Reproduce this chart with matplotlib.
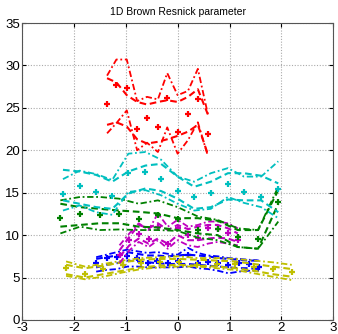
import matplotlib
matplotlib.use("Agg")
import matplotlib.pyplot as plt

plt.rcParams['font.family'] = ['Liberation Sans', 'DejaVu Sans']

# Red group
red_x = [-1.36, -1.18, -0.98, -0.78, -0.59, -0.38, -0.2, 0.0, 0.2, 0.39, 0.585]
red_pts = [25.4, 27.7, 27.3, 22.5, 23.8, 22.75, 26.2, 22.2, 24.3, 26.1, 21.9]
red_hi_outer = [28.8, 30.7, 30.7, 25.8, 26.3, 26.0, 29.1, 26.5, 27.0, 29.6, 24.2]
red_hi_inner = [28.5, 28.0, 26.5, 25.7, 25.4, 25.7, 25.9, 25.7, 26.3, 27.2, 24.2]
red_lo_inner = [23.0, 23.3, 22.8, 21.3, 20.8, 21.0, 21.3, 21.7, 22.2, 23.0, 19.5]
red_lo_outer = [22.0, 23.2, 24.7, 20.0, 20.9, 19.8, 22.7, 19.6, 21.2, 23.3, 19.3]

# Cyan group
cyan_x = [-2.21, -1.89, -1.57, -1.26, -0.95, -0.62, -0.32, 0.0, 0.32, 0.64, 0.97, 1.28, 1.61, 1.94]
cyan_pts = [14.83, 15.77, 15.06, 14.67, 17.34, 17.42, 16.56, 15.18, 14.48, 14.99, 16.05, 15.03, 14.55, 15.42]
cyan_hi_outer = [16.6, 17.6, 17.2, 16.5, 19.6, 19.8, 18.9, 16.9, 16.3, 17.3, 17.9, 16.9, 16.9, 18.7]
cyan_hi_inner = [17.7, 17.5, 17.1, 16.3, 17.5, 18.2, 18.4, 16.9, 15.7, 16.3, 17.3, 17.3, 17.0, 16.1]
cyan_lo_inner = [14.1, 13.7, 13.3, 13.1, 14.9, 15.5, 15.2, 14.3, 13.1, 13.3, 14.2, 14.1, 14.1, 12.7]
cyan_lo_outer = [12.9, 13.5, 12.7, 12.4, 15.1, 15.3, 14.7, 13.7, 12.9, 13.1, 14.5, 13.8, 13.3, 12.0]

# Green group
green_x = [-2.26, -1.88, -1.5, -1.13, -0.75, -0.38, 0.0, 0.39, 0.77, 1.16, 1.55, 1.94]
green_pts = [12.0, 12.55, 12.36, 12.55, 11.85, 12.36, 11.85, 10.6, 10.67, 9.8, 9.5, 13.9]
green_hi_outer = [14.1, 14.5, 14.5, 14.3, 13.7, 14.1, 13.3, 12.2, 11.8, 10.8, 10.6, 15.7]
green_hi_inner = [13.7, 13.3, 13.1, 12.9, 12.75, 12.55, 12.0, 12.0, 11.7, 10.6, 10.6, 15.3]
green_lo_inner = [11.0, 11.2, 11.4, 11.4, 11.0, 10.9, 10.6, 10.2, 10.0, 8.6, 8.4, 13.7]
green_lo_outer = [10.2, 11.0, 10.6, 10.67, 10.6, 10.6, 10.5, 9.7, 9.4, 8.6, 8.4, 11.6]

# Magenta group
mag_x = [-1.12, -0.93, -0.75, -0.56, -0.38, -0.19, 0.0, 0.2, 0.39, 0.585, 0.77, 0.97, 1.16]
mag_pts = [7.65, 9.4, 10.1, 9.6, 11.0, 9.0, 10.8, 10.0, 9.7, 10.8, 10.7, 10.3, 9.4]
mag_hi_outer = [8.8, 10.2, 11.4, 10.6, 12.55, 11.0, 11.8, 11.0, 11.2, 11.6, 11.6, 11.4, 10.8]
mag_hi_inner = [8.2, 9.8, 11.2, 10.8, 11.4, 10.6, 11.2, 10.7, 11.0, 11.2, 11.2, 10.8, 10.2]
mag_lo_inner = [7.45, 8.8, 9.6, 9.0, 9.6, 9.0, 10.0, 9.4, 9.4, 9.6, 9.7, 9.6, 9.2]
mag_lo_outer = [6.7, 8.2, 9.2, 8.6, 9.4, 8.4, 9.4, 8.8, 8.6, 9.0, 9.2, 9.0, 8.8]

# Blue group
blue_x = [-1.57, -1.37, -1.17, -0.97, -0.78, -0.58, -0.39, -0.19, 0.0, 0.2, 0.39, 0.59, 0.78, 0.98, 1.18, 1.37, 1.57]
blue_pts = [6.7, 7.25, 7.45, 7.5, 7.3, 6.75, 6.9, 6.7, 6.9, 7.65, 6.7, 6.8, 6.75, 6.5, 6.7, 6.6, 6.3]
blue_hi_outer = [7.4, 7.7, 8.0, 8.3, 8.1, 7.9, 8.0, 7.8, 7.7, 8.5, 7.9, 7.6, 7.5, 7.3, 7.2, 7.1, 7.0]
blue_hi_inner = [7.2, 7.4, 7.6, 8.0, 7.8, 7.6, 7.6, 7.5, 7.6, 7.7, 7.6, 7.5, 7.3, 7.2, 7.1, 7.0, 7.0]
blue_lo_inner = [6.2, 6.5, 6.7, 7.0, 6.9, 6.8, 6.7, 6.6, 6.6, 6.6, 6.5, 6.4, 6.3, 6.2, 6.1, 6.1, 6.0]
blue_lo_outer = [5.7, 5.9, 6.0, 6.3, 6.3, 6.2, 6.2, 6.2, 6.2, 6.3, 6.1, 6.0, 5.8, 5.5, 5.7, 5.8, 5.8]

# Olive group
olive_x = [-2.15, -1.79, -1.43, -1.06, -0.7, -0.34, 0.02, 0.38, 0.75, 1.11, 1.47, 1.83, 2.2]
olive_pts = [6.1, 5.4, 6.0, 6.5, 6.7, 6.8, 6.8, 6.5, 6.6, 6.6, 6.3, 6.0, 5.7]
olive_hi_outer = [6.9, 6.3, 6.6, 7.0, 7.3, 7.4, 7.5, 7.3, 7.3, 7.2, 7.0, 6.8, 6.5]
olive_hi_inner = [6.5, 6.1, 6.4, 6.8, 7.1, 7.2, 7.2, 7.1, 7.0, 6.9, 6.6, 6.3, 6.0]
olive_lo_inner = [5.4, 5.0, 5.4, 5.8, 6.2, 6.4, 6.5, 6.4, 6.3, 6.1, 5.8, 5.4, 5.1]
olive_lo_outer = [5.2, 4.8, 5.1, 5.6, 6.0, 6.2, 6.3, 6.3, 6.1, 5.9, 5.5, 5.1, 4.7]

x_ticks = [-3, -2, -1, 0, 1, 2, 3]
y_ticks = [0, 5, 10, 15, 20, 25, 30, 35]

groups = [
    ('#0000ff', blue_x, blue_pts, blue_hi_outer, blue_hi_inner, blue_lo_inner, blue_lo_outer),
    ('#bfbf00', olive_x, olive_pts, olive_hi_outer, olive_hi_inner, olive_lo_inner, olive_lo_outer),
    ('#bf00bf', mag_x, mag_pts, mag_hi_outer, mag_hi_inner, mag_lo_inner, mag_lo_outer),
    ('#008000', green_x, green_pts, green_hi_outer, green_hi_inner, green_lo_inner, green_lo_outer),
    ('#00bfbf', cyan_x, cyan_pts, cyan_hi_outer, cyan_hi_inner, cyan_lo_inner, cyan_lo_outer),
    ('#ff0000', red_x, red_pts, red_hi_outer, red_hi_inner, red_lo_inner, red_lo_outer),
]

fig = plt.figure(figsize=(3.38, 3.34), dpi=100)
ax = fig.add_axes([0.065, 0.042, 0.921, 0.889])

dash = (0, (3.2, 1.8))
dashdot = (0, (3.5, 1.5, 1.0, 1.5))

for color, xs, pts, hi_o, hi_i, lo_i, lo_o in groups:
    ax.plot(xs, hi_o, color=color, linestyle=dashdot, linewidth=1.3)
    ax.plot(xs, hi_i, color=color, linestyle=dash, linewidth=1.5)
    ax.plot(xs, lo_i, color=color, linestyle=dash, linewidth=1.5)
    ax.plot(xs, lo_o, color=color, linestyle=dashdot, linewidth=1.3)
    ax.plot(xs, pts, linestyle='none', marker='+', markersize=5,
            markeredgewidth=1.6, color=color)

ax.set_xlim(-3, 3)
ax.set_ylim(0, 35)
ax.set_xticks(x_ticks)
ax.set_yticks(y_ticks)
ax.set_xticklabels([str(v) for v in x_ticks])
ax.set_yticklabels([str(v) for v in y_ticks])
ax.grid(True, color='#aaaaaa', linestyle=(0, (1, 1.5)), linewidth=0.8)
ax.set_axisbelow(True)
ax.tick_params(direction='in', length=3, labelsize=9.5, top=True, right=True, pad=1.5)
for s in ax.spines.values():
    s.set_color('#555555')
    s.set_linewidth(0.8)
ax.set_title('1D Brown Resnick parameter', fontsize=7.5, pad=6)

fig.savefig('out.png', dpi=100)
